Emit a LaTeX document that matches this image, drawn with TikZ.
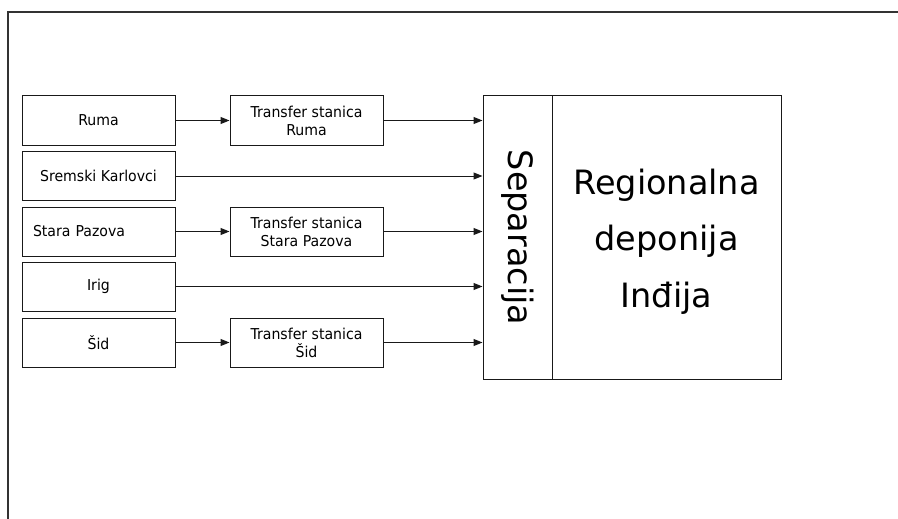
\documentclass[tikz,border=0pt]{standalone}
\usepackage{fontspec}
\setmainfont{DejaVu Sans}
\newfontfamily\labelfont{DejaVu Sans}[FakeStretch=0.94]
\usetikzlibrary{arrows.meta,calc}

\begin{document}
\begin{tikzpicture}[x=1pt, y=-1pt,
  box/.style={draw=black!90, line width=1pt, minimum width=153pt, minimum height=49pt,
    inner sep=0pt, align=center, font=\labelfont\fontsize{15}{18}\selectfont},
  leftbox/.style={box, align=left, text width=131pt},
  flow/.style={draw=black!90, line width=1pt, -{Triangle[length=9pt,width=7pt]}},
  bigtext/.style={font=\fontsize{33.5}{56.5}\selectfont, align=center}
]
  % page extent and the open frame (top and left edges only)
  \useasboundingbox (0,0) rectangle (898,519);
  \draw[black!80, line width=1.2pt] (898,12) -- (8,12) -- (8,519);

  % municipalities
  \node[box]     (ruma)  at (98.5,120.5) {Ruma};
  \node[box]     (sk)    at (98.5,176)   {Sremski Karlovci};
  \node[leftbox] (sp)    at (98.5,231.5) {Stara Pazova};
  \node[box]     (irig)  at (98.5,286.5) {Irig};
  \node[box]     (sid)   at (98.5,342.5) {Šid};

  % transfer stations
  \node[box] (truma) at (306.5,120.5) {Transfer stanica\\Ruma};
  \node[box] (tsp)   at (306.5,231.5) {Transfer stanica\\Stara Pazova};
  \node[box] (tsid)  at (306.5,342.5) {Transfer stanica\\Šid};

  % landfill with separation column
  \node[draw=black!90, line width=1pt, minimum width=69pt, minimum height=283pt, inner sep=0pt]
    (sep) at (517.5,237.5) {};
  \node[draw=black!90, line width=1pt, minimum width=229pt, minimum height=283pt, inner sep=0pt]
    (reg) at (666.5,237.5) {};
  \node[bigtext, rotate=-90] (septxt) at (sep.center) {Separacija};
  \node[bigtext] (regtxt) at ($(reg.center)+(0,4)$) {Regionalna\\deponija\\Inđija};

  % flows
  \draw[flow] (ruma) -- (truma);
  \draw[flow] (truma) -- (truma -| sep.west);
  \draw[flow] (sk) -- (sk -| sep.west);
  \draw[flow] (sp) -- (tsp);
  \draw[flow] (tsp) -- (tsp -| sep.west);
  \draw[flow] (irig) -- (irig -| sep.west);
  \draw[flow] (sid) -- (tsid);
  \draw[flow] (tsid) -- (tsid -| sep.west);
\end{tikzpicture}
\end{document}
